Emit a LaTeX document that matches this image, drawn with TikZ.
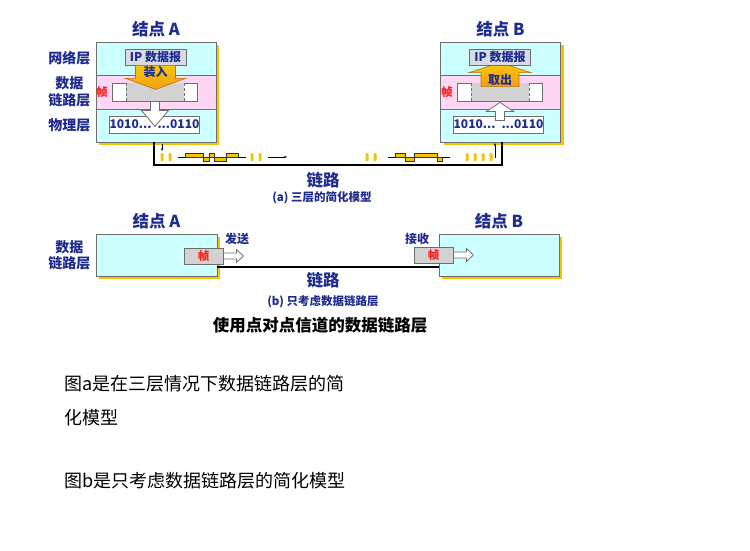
\documentclass[tikz,border=0pt]{standalone}
\usepackage{fontspec}
\setmainfont{Noto Sans CJK SC}
\usetikzlibrary{arrows.meta,calc,positioning,backgrounds}
\definecolor{Navy}{HTML}{1F2C8F}
\definecolor{Aqua}{HTML}{CCFFFF}
\definecolor{Blush}{HTML}{FFD6F4}
\definecolor{Gold}{HTML}{F5C400}
\definecolor{Amber}{HTML}{F39C12}
\definecolor{Steel}{HTML}{D6DBE6}
\definecolor{Frame}{HTML}{D2D2D2}
\definecolor{Edge}{HTML}{6E6E6E}
\definecolor{Zhen}{HTML}{FF1A1A}
% grey middle of a frame, white cells at both ends
\newcommand{\framecells}[1]{%
  \fill[Frame] ($(#1.north west)+(14,.4)$) rectangle ($(#1.south east)+(-14,-.4)$);
  \draw[Edge,densely dashed] ($(#1.north west)+(14,.4)$) -- ($(#1.south west)+(14,-.4)$)
    ($(#1.north east)+(-14,.4)$) -- ($(#1.south east)+(-14,-.4)$);}

\begin{document}
\begin{tikzpicture}[x=1pt,y=-1pt,
  layer/.style={draw=Edge,line width=.8pt,minimum width=120,inner sep=0,outer sep=0},
  title/.style={font=\fontsize{16.5}{18}\selectfont\bfseries,text=Navy},
  side/.style={font=\fontsize{14}{16.5}\selectfont\bfseries,text=Navy,align=center},
  tag/.style={font=\fontsize{12}{13}\selectfont\bfseries,text=Navy},
  subcap/.style={font=\fontsize{11.5}{13}\selectfont\bfseries,text=Navy},
  zhen/.style={font=\fontsize{11.5}{13}\selectfont\bfseries,text=Zhen},
  ipbox/.style={tag,draw=Edge,fill=Steel,line width=.8pt,minimum width=61,minimum height=16,inner sep=0},
  bitbox/.style={tag,draw=Edge,fill=white,line width=.8pt,minimum width=83,minimum height=17,inner sep=0},
  framebox/.style={draw=Edge,fill=white,line width=.8pt,minimum width=85,minimum height=18,inner sep=0},
  sendbox/.style={zhen,draw=Edge,fill=Frame,line width=.8pt,minimum width=39,minimum height=16,inner sep=0},
  hollow/.style={draw=Edge,fill=white,line width=.8pt},
  loadarrow/.style={draw=Amber!75!black,top color=Amber!55!yellow,bottom color=Amber,line width=.6pt},
  link/.style={line width=2pt},
  bit/.style={Gold,rounded corners=1pt},
  wave/.style={fill=Gold,draw=black!80,line width=.4pt},
  note/.style={font=\fontsize{18}{22}\selectfont,anchor=west,inner sep=0}]
  \begin{scope}[on background layer]
    \fill[white] (0,0) rectangle (750,550);
  \end{scope}
  \useasboundingbox (0,0) rectangle (750,550);

  % (a) three layers
  \node[layer,fill=Aqua,minimum height=33] (netA) at (156,58.5) {};
  \node[layer,fill=Blush,minimum height=34,below=0pt of netA] (dllA) {};
  \node[layer,fill=Aqua,minimum height=33,below=0pt of dllA] (phyA) {};
  \node[layer,fill=Aqua,minimum height=33] (netB) at (500.5,58.5) {};
  \node[layer,fill=Blush,minimum height=34,below=0pt of netB] (dllB) {};
  \node[layer,fill=Aqua,minimum height=33,below=0pt of dllB] (phyB) {};
  \begin{scope}[on background layer]
    \fill[Gold] ($(netA.north west)+(3,3)$) rectangle ($(phyA.south east)+(3,3)$);
    \fill[Gold] ($(netB.north west)+(3,3)$) rectangle ($(phyB.south east)+(3,3)$);
  \end{scope}
  \node[title,above=1pt of netA] {结点 A};
  \node[title,above=1pt of netB] {结点 B};
  \node[side,left=2pt of netA] {网络层};
  \node[side,left=2pt of dllA] {数据\\链路层};
  \node[side,left=2pt of phyA] {物理层};

  % node A: down
  \node[framebox] (frA) at (155,92) {};
  \framecells{frA}
  \node[zhen,left=1pt of frA] {帧};
  \node[ipbox] (ipA) at (155.5,57) {IP 数据报};
  \draw[loadarrow] ($(ipA.south)+(-20,0)$) -- ++(0,13) -- ++(-10,0) -- ($(ipA.south)+(0,24)$)
    -- ++(30,-11) -- ++(-10,0) -- ++(0,-13) -- cycle;
  \node[tag] at ($(ipA.south)+(0,7)$) {装入};
  \node[bitbox] (bitA) at (154.5,124.5) {1010...\hspace{6pt}...0110};
  \draw[hollow] ($(frA.south)+(-4.5,0)$) -- ++(0,9) -- ++(-9,0) -- ($(frA.south)+(0,25)$)
    -- ++(13.5,-16) -- ++(-9,0) -- ++(0,-9) -- cycle;

  % node B: up
  \node[framebox] (frB) at (500,92) {};
  \framecells{frB}
  \node[zhen,left=1pt of frB] {帧};
  \draw[loadarrow] ($(frB.north)+(-19,4)$) -- ++(0,-14) -- ++(-12,0) -- ($(frB.north)+(0,-20)$)
    -- ++(31,10) -- ++(-12,0) -- ++(0,14) -- cycle;
  \node[tag] at ($(frB.north)+(0,-3)$) {取出};
  \node[ipbox] (ipB) at (500,57) {IP 数据报};
  \node[bitbox] (bitB) at (498.5,124.5) {1010...\hspace{6pt}...0110};
  \draw[hollow] ($(frB.south)+(-4.5,19)$) -- ++(0,-9) -- ++(-9,0) -- ($(frB.south)+(0,1)$)
    -- ++(13.5,9) -- ++(-9,0) -- ++(0,9) -- cycle;

  % link and signals
  \draw[link] ($(phyA.south)+(-2,0)$) -- ++(0,23) -| ($(phyB.south)+(1.5,0)$);
  \draw[-{Stealth[length=3pt]},thin] ($(phyA.south)+(6,2)$) -- ++(0,7);
  \draw[-{Stealth[length=3pt]},thin] ($(phyB.south)+(-5.5,16)$) -- ++(0,-15);
  \draw[-{Stealth[length=3pt]},thin] (268,157) -- (287,157);
  \foreach \x in {162,170,252,260,367,375,467,475,483,491}
    \fill[bit] (\x-1.5,153) rectangle (\x+1.5,161);
  \draw[thin] (178,157) -- (246,157) (388,157) -- (450,157);
  \foreach \a/\b/\h in {185/203/4,203/209/-4,209/214/4,214/226/-4,226/238/4,
                        395/405/4,405/414/-4,414/437/4,437/442/-4}
    \filldraw[wave] (\a,157) rectangle (\b,{157-\h});
  \node[title] at (323,180) {链路};
  \node[subcap] at (322,198) {(a) 三层的简化模型};

  % (b) data link layer only
  \node[layer,fill=Aqua,minimum width=121,minimum height=42] (dllA2) at (156.5,255) {};
  \node[layer,fill=Aqua,minimum width=120,minimum height=42] (dllB2) at (499,255) {};
  \begin{scope}[on background layer]
    \fill[Gold] ($(dllA2.north west)+(3,3)$) rectangle ($(dllA2.south east)+(3,3)$);
    \fill[Gold] ($(dllB2.north west)+(3,3)$) rectangle ($(dllB2.south east)+(3,3)$);
  \end{scope}
  \node[title,above=1pt of dllA2] {结点 A};
  \node[title,above=1pt of dllB2] {结点 B};
  \node[side,left=2pt of dllA2] {数据\\链路层};
  \node[sendbox] (sendA) at (203.5,256) {帧};
  \node[sendbox] (recvB) at (433.5,255) {帧};
  \draw[hollow] ($(sendA.east)+(0,-3)$) -- ++(13,0) -- ++(0,-3.5) -- ($(sendA.east)+(20,0)$)
    -- ++(-7,6.5) -- ++(0,-3.5) -- ++(-13,0) -- cycle;
  \draw[hollow] ($(recvB.east)+(0,-3)$) -- ++(13,0) -- ++(0,-3.5) -- ($(recvB.east)+(20,0)$)
    -- ++(-7,6.5) -- ++(0,-3.5) -- ++(-13,0) -- cycle;
  \node[tag] at (237,239) {发送};
  \node[tag] at (417,239) {接收};
  \draw[link] ($(dllA2.east)+(0,12)$) -- ($(dllB2.west)+(0,12)$);
  \node[title] at (323,280) {链路};
  \node[subcap] at (323,302) {(b) 只考虑数据链路层};
  \node[font=\fontsize{16.5}{18}\selectfont\bfseries] at (320,325) {使用点对点信道的数据链路层};

  % notes
  \node[note] at (64,384) {图a是在三层情况下数据链路层的简};
  \node[note] at (64,418) {化模型};
  \node[note] at (64,481) {图b是只考虑数据链路层的简化模型};
\end{tikzpicture}
\end{document}
